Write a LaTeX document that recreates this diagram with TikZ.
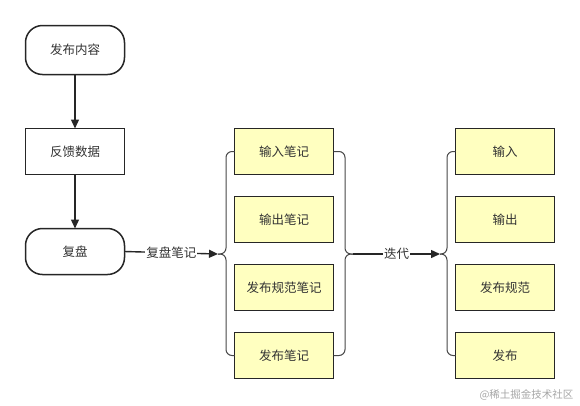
\documentclass[tikz,border=0pt]{standalone}
\usepackage{fontspec}
\setmainfont{Noto Sans CJK SC}
\usetikzlibrary{arrows.meta, positioning}
\definecolor{lineclr}{HTML}{262626}
\definecolor{textclr}{HTML}{333333}
\definecolor{noteclr}{HTML}{FFFFC0}
\tikzset{
  base/.style={draw=lineclr, line width=1.5pt, text=textclr,
               minimum width=99pt, minimum height=46pt, inner sep=0pt,
               outer sep=0pt, font=\fontsize{12.5}{15}\selectfont},
  terminal/.style={base, rounded corners=17pt, fill=white},
  process/.style={base, fill=white},
  note/.style={base, fill=noteclr},
  flow/.style={draw=lineclr, line width=1.4pt, -{Triangle[length=9pt,width=8pt]}},
  brace/.style={draw=lineclr!85, line width=1pt, rounded corners=6pt},
  tag/.style={fill=white, text=textclr, inner sep=1pt,
              font=\fontsize{12.5}{15}\selectfont}
}
\begin{document}
\begin{tikzpicture}[x=1pt, y=-1pt]
  \useasboundingbox (0,0) rectangle (580,405);

  % left column
  \node[terminal, minimum height=49pt] (fb) at (75,50) {发布内容};
  \node[process, below=54pt of fb] (fk) {反馈数据};
  \node[terminal, below=54pt of fk] (fp) {复盘};
  \draw[flow] (fb) -- (fk);
  \draw[flow] (fk) -- (fp);

  % notes
  \node[note, right=110pt of fk] (m1) {输入笔记};
  \node[note, below=22pt of m1] (m2) {输出笔记};
  \node[note, below=22pt of m2] (m3) {发布规范笔记};
  \node[note, below=22pt of m3] (m4) {发布笔记};

  % results
  \node[note, right=122pt of m1] (r1) {输入};
  \node[note, below=22pt of r1] (r2) {输出};
  \node[note, below=22pt of r2] (r3) {发布规范};
  \node[note, below=22pt of r3] (r4) {发布};

  % brace tips
  \coordinate (lb) at (218,254);
  \coordinate (mb) at (353,254);
  \coordinate (rb) at (440,254);

  \draw[brace] (m1.west) -| ([xshift=8pt]lb) -- (lb);
  \draw[brace] (lb) -- ([xshift=8pt]lb) |- (m4.west);
  \draw[brace] (m1.east) -| ([xshift=-8pt]mb) -- (mb);
  \draw[brace] (mb) -- ([xshift=-8pt]mb) |- (m4.east);
  \draw[brace] (r1.west) -| ([xshift=7pt]rb) -- (rb);
  \draw[brace] (rb) -- ([xshift=7pt]rb) |- (r4.west);

  \draw[flow] (fp.east) -- node[tag] {复盘笔记} (lb);
  \draw[flow] (mb) -- node[tag] {迭代} (rb);

  \node[anchor=east, text=gray!70, font=\fontsize{10.5}{12}\selectfont] (wm) at (577,395) {@稀土掘金技术社区};
\end{tikzpicture}
\end{document}
